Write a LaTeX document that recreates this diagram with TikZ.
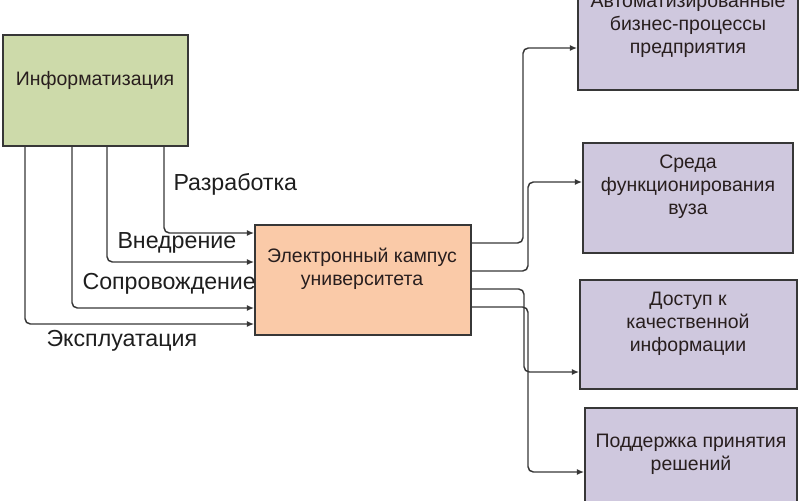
\documentclass[tikz,border=0pt]{standalone}
\usepackage{fontspec}
\setmainfont{Liberation Sans}
\usetikzlibrary{arrows.meta}

\definecolor{infogreen}{RGB}{205,218,170}
\definecolor{campuspeach}{RGB}{250,202,168}
\definecolor{resultlilac}{RGB}{207,200,222}
\definecolor{edgegray}{RGB}{55,55,55}

\tikzset{every picture/.style={line width=0.75pt}}
\tikzset{
  box/.style={draw=edgegray, line width=1.2pt, inner sep=0pt},
  boxtext/.style={inner sep=0pt, align=center, text={rgb,255:red,40;green,30;blue,30},
    font=\fontsize{14.6}{17.3}\selectfont},
  flowlabel/.style={anchor=west, inner sep=0pt, text={rgb,255:red,30;green,30;blue,30},
    font=\fontsize{17.4}{20}\selectfont},
  conn/.style={draw=edgegray, line width=1.1pt, rounded corners=4pt,
    -{Latex[length=5.5pt,width=4.5pt]}}
}

\begin{document}
\begin{tikzpicture}[x=0.75pt,y=0.75pt,yscale=-1,xscale=1]
\useasboundingbox (0,0) rectangle (800,500);
\clip (0,0) rectangle (800,500);

%Shape: Rectangle [info]
\node [box, fill=infogreen, minimum width=185*0.75pt, minimum height=111*0.75pt] (info) at (95.5,90.5) {};
% Text Node
\node [boxtext] (info-t) at (95,80) {Информатизация};

%Shape: Rectangle [campus]
\node [box, fill=campuspeach, minimum width=216*0.75pt, minimum height=110*0.75pt] (campus) at (363,280) {};
% Text Node
\node [boxtext] (campus-t) at (362,268.5) {Электронный кампус\\университета};

%Shape: Rectangle [results]
\node [box, fill=resultlilac, minimum width=220*0.75pt, minimum height=105*0.75pt] (avtom) at (688,37.5) {};
\node [box, fill=resultlilac, minimum width=210*0.75pt, minimum height=110*0.75pt] (sreda) at (688,198) {};
\node [box, fill=resultlilac, minimum width=217*0.75pt, minimum height=109*0.75pt] (dostup) at (688.5,334.5) {};
\node [box, fill=resultlilac, minimum width=212*0.75pt, minimum height=110*0.75pt] (podderzh) at (691,463) {};
% Text Node
\node [boxtext] (avtom-t) at (688,26) {Автоматизированные\\бизнес-процессы\\предприятия};
% Text Node
\node [boxtext] (sreda-t) at (688,187) {Среда\\функционирования\\вуза};
% Text Node
\node [boxtext] (dostup-t) at (688,324) {Доступ к\\качественной\\информации};
% Text Node
\node [boxtext] (podderzh-t) at (691,454) {Поддержка принятия\\решений};

%Straight Lines [inputs]
\draw [conn] (info.south -| 164,0) |- (campus.west |- 0,233);
\draw [conn] (info.south -| 107,0) |- (campus.west |- 0,262);
\draw [conn] (info.south -| 72,0) |- (campus.west |- 0,308);
\draw [conn] (info.south -| 25,0) |- (campus.west |- 0,324);

%Straight Lines [outputs]
\draw [conn] (campus.east |- 0,243) -| (523,48) -- (avtom.west |- 0,48);
\draw [conn] (campus.east |- 0,271) -| (528,182) -- (sreda.west |- 0,182);
\draw [conn] (campus.east |- 0,289) -| (524,372) -- (dostup.west |- 0,372);
\draw [conn] (campus.east |- 0,307) -| (528,472) -- (podderzh.west |- 0,472);

% Text Node
\node [flowlabel] (razr) at (173,184) {Разработка};
% Text Node
\node [flowlabel] (vnedr) at (117,243) {Внедрение};
% Text Node
\node [flowlabel] (sopr) at (82,284) {Сопровождение};
% Text Node
\node [flowlabel] (ekspl) at (46,341) {Эксплуатация};

\end{tikzpicture}
\end{document}
